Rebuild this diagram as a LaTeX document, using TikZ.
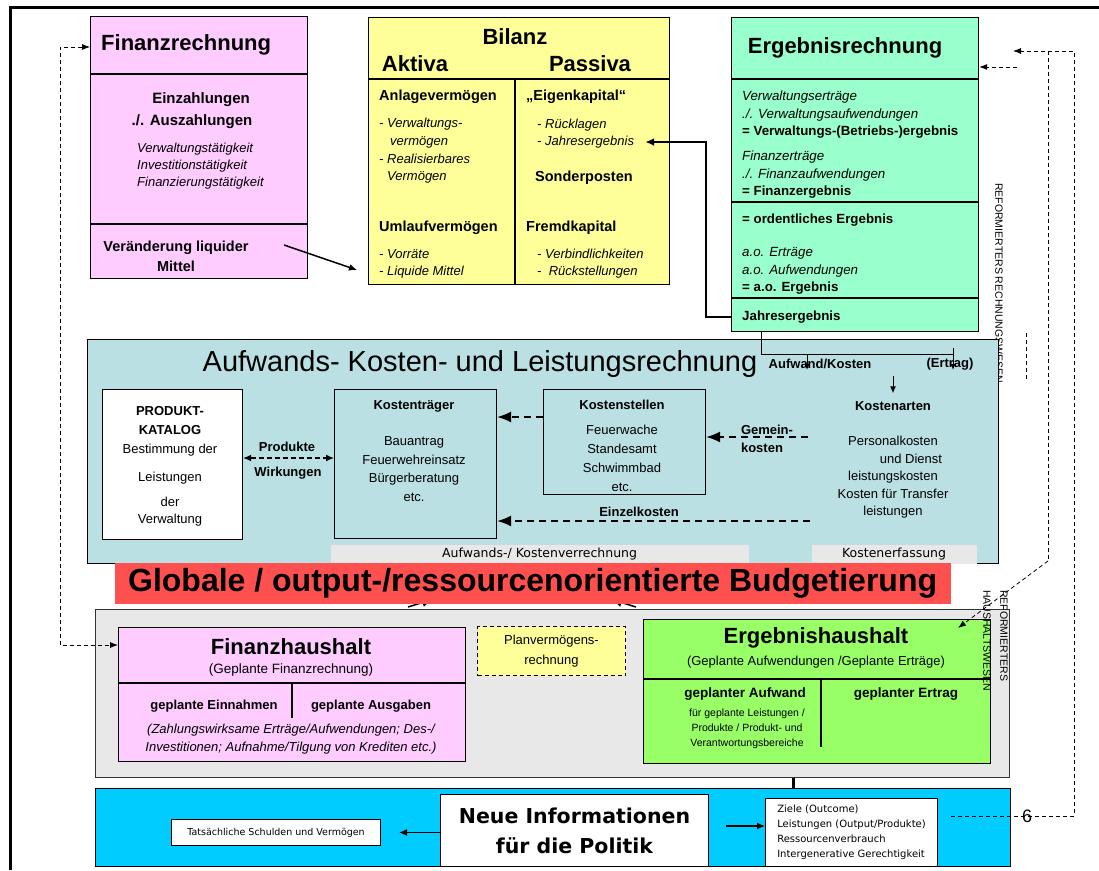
\documentclass[tikz,border=0pt]{standalone}
\usepackage{fontspec}
\setmainfont{Liberation Sans}
\newfontfamily\tahoma{DejaVu Sans}
\usetikzlibrary{arrows.meta}
\definecolor{finpink}{HTML}{FFCCFF}
\definecolor{bilyellow}{HTML}{FFFF99}
\definecolor{ergmint}{HTML}{99FFCC}
\definecolor{aklteal}{HTML}{BAE0E3}
\definecolor{hhgray}{HTML}{E8E8E8}
\definecolor{budgetred}{HTML}{FF5050}
\definecolor{hhgreen}{HTML}{99FF66}
\definecolor{infoblue}{HTML}{00CCFF}
\newcommand\fsz[2]{\fontsize{#1}{#2}\selectfont}
\tikzset{
  plan box/.style={draw,line width=1.2pt,inner sep=0pt,anchor=north west},
  plan line/.style={line width=1.2pt},
  plan txt/.style={inner sep=0pt,align=center,font=\fsz{#1}{18}},
  plan txt/.default=13,
  plan bold/.style={inner sep=0pt,align=center,font=\bfseries\fsz{#1}{18}},
  plan bold/.default=13,
  plan it/.style={inner sep=0pt,align=left,anchor=west,font=\itshape\fsz{#1}{17.5}},
  plan it/.default=13,
  plan head/.style={inner sep=0pt,font=\bfseries\fsz{22}{26}},
  plan tahoma/.style={inner sep=0pt,align=center,font=\tahoma\fsz{#1}{15}},
  plan tahoma/.default=12,
  plan conn/.style={line width=1.5pt,-{Latex[length=8pt,width=7pt]}},
  akl arrow/.style={line width=1.5pt,dash pattern=on 7pt off 5pt,-{Latex[length=14pt,width=11pt]}},
  ref dash/.style={line width=.8pt,dash pattern=on 4pt off 3pt},
  ref tip/.style={-{Latex[length=8pt,width=6pt]}}
}

\begin{document}
\begin{tikzpicture}[x=1pt,y=-1pt]
  \useasboundingbox (0,0) rectangle (1099,870);
  \draw[line width=3pt] (1099,7) -| (10,870);

  % Finanzrechnung
  \node[plan box,fill=finpink,minimum width=217pt,minimum height=262pt] (finrech) at (90,16) {};
  \draw[plan line] (90,74) -- (307,74) (90,224) -- (307,224);
  \node[plan head,anchor=west] (finrechtitle) at (101,45) {Finanzrechnung};
  \node[plan bold=15] (einz) at (201,100) {Einzahlungen};
  \node[plan bold=15] (ausz) at (192,122) {./. Auszahlungen};
  \node[plan it,font=\itshape\fsz{13}{16.7}] (fintaet) at (137,166)
    {Verwaltungstätigkeit\\Investitionstätigkeit\\Finanzierungstätigkeit};
  \node[plan bold=14.5,font=\bfseries\fsz{14.5}{20}] (veraend) at (176,256) {Veränderung liquider\\Mittel};

  % Bilanz
  \node[plan box,fill=bilyellow,minimum width=301pt,minimum height=267pt] (bilanz) at (368,17) {};
  \draw[plan line] (368,79) -- (669,79) (515,79) -- (515,284);
  \node[plan head] (biltitle) at (515,37) {Bilanz};
  \node[plan head] (aktiva) at (415,64) {Aktiva};
  \node[plan head] (passiva) at (590,64) {Passiva};
  \node[plan bold=14.5,anchor=west] (anlage) at (379,97) {Anlagevermögen};
  \node[plan it,font=\itshape\fsz{13}{17.7}] (anlagelist) at (379,151)
    {- Verwaltungs-\\\hspace*{11pt}vermögen\\- Realisierbares\\\hspace*{8pt}Vermögen};
  \node[plan bold=14.5,anchor=west] (umlauf) at (379,228) {Umlaufvermögen};
  \node[plan it,font=\itshape\fsz{13}{17}] (umlauflist) at (379,264) {- Vorräte\\- Liquide Mittel};
  \node[plan bold=14.5,anchor=west] (eigenk) at (526,97) {„Eigenkapital“};
  \node[plan it] (bilrueck) at (537,125) {- Rücklagen};
  \node[plan it] (bilje) at (537,142) {- Jahresergebnis};
  \node[plan bold=14.5,anchor=west] (sonder) at (535,178) {Sonderposten};
  \node[plan bold=14.5,anchor=west] (fremd) at (526,228) {Fremdkapital};
  \node[plan it,font=\itshape\fsz{13}{17}] (fremdlist) at (537,264) {- Verbindlichkeiten\\-\ \ Rückstellungen};

  % Ergebnisrechnung
  \node[plan box,fill=ergmint,minimum width=247pt,minimum height=314pt] (ergrech) at (731,17) {};
  \draw[plan line] (731,79) -- (978,79) (731,202) -- (978,202) (731,298) -- (978,298);
  \node[plan head] (ergtitle) at (845,48) {Ergebnisrechnung};
  \node[plan it=13.3] (ergverw) at (742,115)
    {Verwaltungserträge\\./. Verwaltungsaufwendungen\\{\upshape\bfseries = Verwaltungs-(Betriebs-)ergebnis}};
  \node[plan it=13.3] (ergfin) at (742,175)
    {Finanzerträge\\./. Finanzaufwendungen\\{\upshape\bfseries = Finanzergebnis}};
  \node[plan bold=13.3,anchor=west] (ordentl) at (742,220) {= ordentliches Ergebnis};
  \node[plan it=13.3] (ergao) at (742,271)
    {a.o. Erträge\\a.o. Aufwendungen\\{\upshape\bfseries = a.o. Ergebnis}};
  \node[plan bold=13.3,anchor=west] (jahreserg) at (742,317) {Jahresergebnis};

  \coordinate (vl start) at (284,245);
  \coordinate (bil in) at (357,270);
  \draw[plan conn] (vl start) -- (bil in);
  \draw[line width=2pt,-{Latex[length=9pt,width=8pt]}] (ergrech.west |- jahreserg) -- ++(-25,0) |- ([xshift=11pt]bilje.east);

  \node[inner sep=0pt,rotate=-90,anchor=west,font=\fsz{10.5}{12}] (refrech) at (999,183) {REFORMIERTERS RECHNUNGSWESEN};

  % Aufwands- Kosten- und Leistungsrechnung
  \node[plan box,fill=aklteal,minimum width=911pt,minimum height=224pt] (akl) at (87,339) {};
  \node[inner sep=0pt,font=\fsz{29}{32}] (akltitle) at (480,364) {Aufwands- Kosten- und Leistungsrechnung};
  \node[plan box,fill=white,minimum width=140pt,minimum height=150pt] (katalog) at (102,389) {};
  \node[plan txt,anchor=north,font=\fsz{13}{19}] (katalogtxt) at (170,406.5)
    {\textbf{PRODUKT-}\\\textbf{KATALOG}\\Bestimmung der\\[9pt]Leistungen\\[6pt]der\\[-2pt]Verwaltung};
  \node[plan box,minimum width=162pt,minimum height=149pt] (ktraeger) at (334,389) {};
  \node[plan bold] (ktrtitle) at (414,406) {Kostenträger};
  \node[plan txt,anchor=north,font=\fsz{13}{18.7}] (ktrlist) at (414,436.3)
    {Bauantrag\\Feuerwehreinsatz\\Bürgerberatung\\etc.};
  \node[plan box,minimum width=162pt,minimum height=105pt] (kstellen) at (543,389) {};
  \node[plan bold] (ksttitle) at (622,405) {Kostenstellen};
  \node[plan txt,anchor=north,font=\fsz{13}{19}] (kstlist) at (622,425.3)
    {Feuerwache\\Standesamt\\Schwimmbad\\etc.};
  \node[plan bold] (aufw) at (820,364) {Aufwand/Kosten};
  \node[plan bold] (ertrag) at (950,364) {(Ertrag)};
  \node[plan bold] (karten) at (893,406) {Kostenarten};
  \node[plan txt,anchor=north,font=\fsz{13}{17.5}] (kartenlist) at (893,436.3)
    {Personalkosten\\\hspace*{36pt}und Dienst\\leistungskosten\\Kosten für Transfer\\leistungen};
  \node[plan bold] (produkte) at (287,447) {Produkte};
  \node[plan bold] (wirkungen) at (288,473) {Wirkungen};
  \node[plan bold] (gemein) at (767,430) {Gemein-};
  \node[plan bold] (gemkosten) at (762,448) {kosten};
  \node[plan bold] (einzelk) at (639,512) {Einzelkosten};
  \node[plan box,draw=none,fill=hhgray,minimum width=418pt,minimum height=19pt,font=\tahoma\fsz{12.5}{15}] (verrbar) at (330,544) {Aufwands-/ Kostenverrechnung};
  \node[plan box,draw=none,fill=hhgray,minimum width=165pt,minimum height=19pt,font=\tahoma\fsz{12.5}{15}] (erfbar) at (811,544) {Kostenerfassung};

  \coordinate (ak split) at (761,354);
  \coordinate (ak end) at (953,354);
  \coordinate (aufw tip) at (807,370);
  \coordinate (ertr tip) at (953,370);
  \draw[line width=1pt] (ergrech.south -| ak split) -- (ak split) -- (ak end);
  \draw[line width=1pt,-{Latex[length=6pt,width=5pt]}] (aufw tip |- ak split) -- (aufw tip);
  \draw[line width=1pt,-{Latex[length=6pt,width=5pt]}] ([yshift=6pt]ak end) -- (ertr tip);
  \draw[line width=1pt,-{Latex[length=7pt,width=6pt]}] ([yshift=25pt]karten.north) -- ([yshift=8pt]karten.north);

  \coordinate (kst y) at (0,417);
  \coordinate (gk start) at (808,437);
  \coordinate (ek start) at (810,521);
  \coordinate (pw y) at (0,458);
  \draw[akl arrow] (kstellen.west |- kst y) -- (ktraeger.east |- kst y);
  \draw[akl arrow] (gk start) -- (kstellen.east |- gk start);
  \draw[akl arrow] (ek start) -- (ktraeger.east |- ek start);
  \draw[line width=1.2pt,dash pattern=on 5pt off 3pt,{Latex[length=8pt,width=7pt]}-{Latex[length=8pt,width=7pt]}]
    (katalog.east |- pw y) -- (ktraeger.west |- pw y);

  % Haushalt
  \node[plan box,draw=black!80,fill=hhgray,minimum width=914pt,minimum height=168pt] (haushalt) at (95,609) {};
  \draw[line width=1.5pt,-{Latex[length=12pt,width=9pt]}] (408,607) -- (434,599);
  \draw[line width=1.5pt,-{Latex[length=12pt,width=9pt]}] (636,607) -- (610,599);
  \node[plan box,draw=none,fill=budgetred,minimum width=836pt,minimum height=41pt,font=\bfseries\fsz{32}{36}] (banner) at (114,562)
    {Globale / output-/ressourcenorientierte Budgetierung};

  \node[plan box,fill=finpink,minimum width=347pt,minimum height=134pt] (finhh) at (118,627) {};
  \draw[plan line] (118,683) -- (465,683) (292,683) -- (292,718);
  \node[plan head] (finhhtitle) at (291,647) {Finanzhaushalt};
  \node[plan txt=13.5] (finhhsub) at (291,670) {(Geplante Finanzrechnung)};
  \node[plan bold] (einnahmen) at (214,706) {geplante Einnahmen};
  \node[plan bold] (ausgaben) at (371,706) {geplante Ausgaben};
  \node[plan it,anchor=north,align=center,font=\itshape\fsz{13}{18}] (finhhnote) at (291,724.3)
    {(Zahlungswirksame Erträge/Aufwendungen; Des-/\\Investitionen; Aufnahme/Tilgung von Krediten etc.)};

  \node[plan box,fill=bilyellow,line width=1pt,dash pattern=on 4pt off 3pt,minimum width=148pt,minimum height=49pt,font=\fsz{13}{20},align=center] (planverm) at (477,626)
    {Planvermögens-\\rechnung};

  \node[plan box,fill=hhgreen,minimum width=347pt,minimum height=144pt] (erghh) at (643,619) {};
  \draw[plan line] (643,679) -- (990,679) (821,679) -- (821,747);
  \node[plan head] (erghhtitle) at (816,638) {Ergebnishaushalt};
  \node[plan txt] (erghhsub) at (816,662) {(Geplante Aufwendungen /Geplante Erträge)};
  \node[plan bold=13.5] (geplauf) at (745,694) {geplanter Aufwand};
  \node[plan txt,anchor=north,font=\fsz{10.5}{15.3}] (geplauflist) at (747,708.2)
    {für geplante Leistungen /\\Produkte / Produkt- und\\Verantwortungsbereiche};
  \node[plan bold=13.5] (geplertrag) at (906,694) {geplanter Ertrag};

  \node[inner sep=0pt,rotate=-90,anchor=west,font=\fsz{10.5}{12}] (refhh1) at (1004,590) {REFORMIERTERS};
  \node[inner sep=0pt,rotate=-90,anchor=west,font=\fsz{10.5}{12}] (refhh2) at (987,590) {HAUSHALTSWESEN};

  % Neue Informationen
  \node[plan box,fill=infoblue,minimum width=915pt,minimum height=78pt] (infobar) at (95,788) {};
  \node[plan box,fill=white,line width=1pt,minimum width=209pt,minimum height=26pt,font=\tahoma\fsz{9.5}{12}] (tats) at (171,819)
    {Tatsächliche Schulden und Vermögen};
  \node[plan box,fill=white,line width=1pt,minimum width=268pt,minimum height=72pt,align=center,font=\tahoma\bfseries\fsz{20.5}{30}] (neueinfo) at (440,794)
    {Neue Informationen\\für die Politik};
  \node[plan box,fill=white,line width=1pt,minimum width=172pt,minimum height=68pt,align=left,font=\tahoma\fsz{10}{15}] (zielebox) at (765,798)
    {Ziele (Outcome)\\Leistungen (Output/Produkte)\\Ressourcenverbrauch\\Intergenerative Gerechtigkeit};

  \coordinate (hh link) at (793,0);
  \coordinate (zl start) at (726,826);
  \draw[line width=3pt] (haushalt.south -| hh link) -- (infobar.north -| hh link);
  \draw[plan conn] (neueinfo.west |- tats) -- ([xshift=18pt]tats.east);
  \draw[plan conn] (zl start) -- (zielebox.west |- zl start);

  % Rueckkopplungen
  \coordinate (six l) at (951,816);
  \coordinate (rf outer) at (1074,51);
  \coordinate (rf inner) at (1048,51);
  \coordinate (rf bend) at (1048,561);
  \coordinate (rf tip) at (1013,51);
  \coordinate (rf mid) at (1017,67);
  \coordinate (erghh tip) at (958,628);
  \coordinate (fl top) at (60,47);
  \coordinate (fl bot) at (60,645);
  \draw[ref dash,ref tip] (six l) -| (rf outer) -- (rf tip);
  \draw[ref dash] (rf inner) -- (rf bend);
  \draw[ref dash,ref tip] (rf bend) -- (erghh tip);
  \draw[ref dash,ref tip] (rf mid) -- (ergrech.east |- rf mid);
  \draw[ref dash] (1026,333) -- (1026,380);
  \draw[ref dash,{Latex[length=8pt,width=6pt]}-{Latex[length=8pt,width=6pt]}]
    (finrech.west |- fl top) -- (fl top) -- (fl bot) -- (finhh.west |- fl bot);
  \node[inner sep=0pt,font=\fsz{18}{20}] (six) at (1027,816) {6};
\end{tikzpicture}
\end{document}
